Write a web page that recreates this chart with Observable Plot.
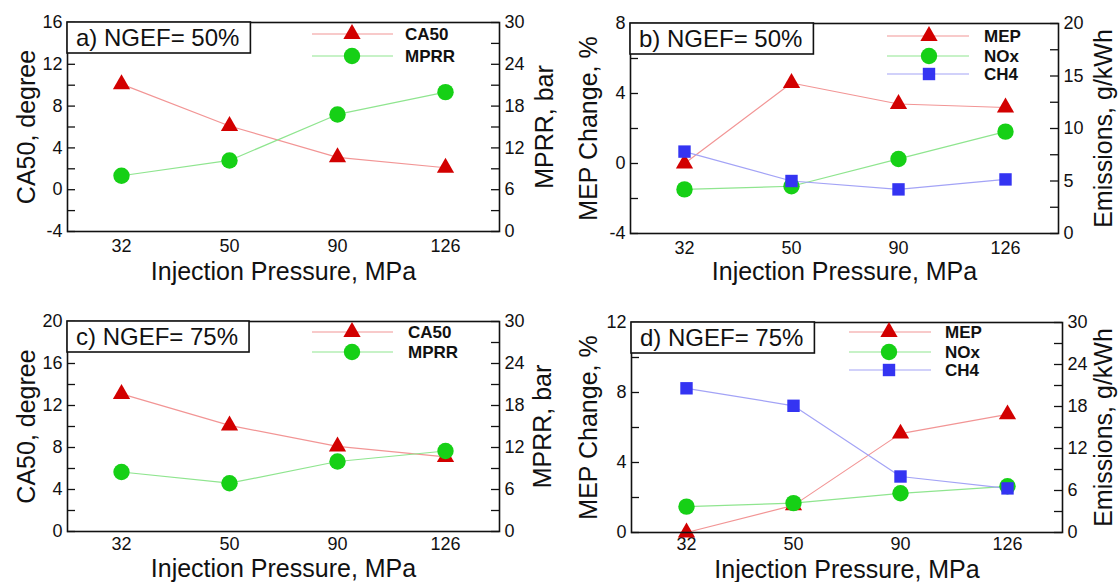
<!DOCTYPE html>
<html>
<head>
<meta charset="utf-8">
<script src="https://cdn.jsdelivr.net/npm/d3@7"></script>
<script src="https://cdn.jsdelivr.net/npm/@observablehq/plot@0.6"></script>
<style>
  html, body { margin: 0; padding: 0; background: #ffffff; }
  #fig { position: relative; width: 1118px; height: 582px; overflow: hidden; background: #fff; }
  #fig > svg { position: absolute; }
</style>
</head>
<body>
<div id="fig"></div>
<script>
// ---------------- data ----------------
const pressures = ["32", "50", "90", "126"];

// panel a (NGEF = 50%)
const ca50_a = [10.1, 6.1, 3.1, 2.1];
const mprr_a = [8.0, 10.2, 16.8, 20.0];
// panel b (NGEF = 50%)
const mep_b = [0.0, 4.6, 3.4, 3.2];
const nox_b = [4.2, 4.5, 7.1, 9.7];
const ch4_b = [7.8, 5.0, 4.2, 5.15];
// panel c (NGEF = 75%)
const ca50_c = [13.1, 10.1, 8.1, 7.1];
const mprr_c = [8.5, 6.9, 10.0, 11.5];
// panel d (NGEF = 75%)
const mep_d = [0.0, 1.55, 5.65, 6.75];
const nox_d = [3.7, 4.2, 5.6, 6.6];
const ch4_d = [20.6, 18.1, 8.0, 6.3];

// tick labels
const leftTicks_a = [-4, 0, 4, 8, 12, 16];
const rightTicks_a = [0, 6, 12, 18, 24, 30];
const leftTicks_b = [-4, 0, 4, 8];
const rightTicks_b = [0, 5, 10, 15, 20];
const leftTicks_c = [0, 4, 8, 12, 16, 20];
const rightTicks_c = [0, 6, 12, 18, 24, 30];
const leftTicks_d = [0, 4, 8, 12];
const rightTicks_d = [0, 6, 12, 18, 24, 30];

// ---------------- styles ----------------
const FONT = "'Liberation Sans', Arial, Helvetica, sans-serif";
const STYLE = {
  CA50: {symbol: "triangle", r: 6.4, fill: "#d20000", line: "#f29595"},
  MEP:  {symbol: "triangle", r: 6.4, fill: "#d20000", line: "#f29595"},
  MPRR: {symbol: "circle", r: 8.2, fill: "#16d016", line: "#8fe58f"},
  NOx:  {symbol: "circle", r: 8.2, fill: "#16d016", line: "#8fe58f"},
  CH4:  {symbol: "square", r: 7, fill: "#3434f2", line: "#a3a3f6"}
};

const CW = 559, CH = 291;

const panels = [
  {
    left: 0, top: 0, m: {l: 67, r: 60, t: 22, b: 60},
    yDomain: [-4, 16], yMinor: 2, leftTicks: leftTicks_a,
    rDomain: [0, 30], rMinor: 3, rightTicks: rightTicks_a,
    leftTitle: "CA50, degree", rightTitle: "MPRR, bar",
    ldx: -41, rdx: 45, xdy: 40, xpad: 8,
    note: "a) NGEF= 50%",
    series: [
      {name: "CA50", values: ca50_a, axis: "left"},
      {name: "MPRR", values: mprr_a, axis: "right"}
    ],
    legend: {x1: 312, x2: 393, mx: 352, tx: 405, rows: [34, 56]}
  },
  {
    left: 559, top: 0, m: {l: 71, r: 60, t: 23, b: 58},
    yDomain: [-4, 8], yMinor: 2, leftTicks: leftTicks_b,
    rDomain: [0, 20], rMinor: 2.5, rightTicks: rightTicks_b,
    leftTitle: "MEP Change, %", rightTitle: "Emissions, g/kWh",
    ldx: -42, rdx: 45, xdy: 38, xpad: 8,
    note: "b) NGEF= 50%",
    series: [
      {name: "MEP", values: mep_b, axis: "left"},
      {name: "NOx", values: nox_b, axis: "right"},
      {name: "CH4", values: ch4_b, axis: "right"}
    ],
    legend: {x1: 328, x2: 410, mx: 370, tx: 425, rows: [36, 56, 74]}
  },
  {
    left: 0, top: 291, m: {l: 67, r: 60, t: 30, b: 51},
    yDomain: [0, 20], yMinor: 2, leftTicks: leftTicks_c,
    rDomain: [0, 30], rMinor: 3, rightTicks: rightTicks_c,
    leftTitle: "CA50, degree", rightTitle: "MPRR, bar",
    ldx: -41, rdx: 43, xdy: 37, xpad: 6,
    note: "c) NGEF= 75%",
    series: [
      {name: "CA50", values: ca50_c, axis: "left"},
      {name: "MPRR", values: mprr_c, axis: "right"}
    ],
    legend: {x1: 312, x2: 393, mx: 352, tx: 408, rows: [41, 61]}
  },
  {
    left: 559, top: 291, m: {l: 72, r: 56, t: 31, b: 50},
    yDomain: [0, 12], yMinor: 2, leftTicks: leftTicks_d,
    rDomain: [0, 30], rMinor: 3, rightTicks: rightTicks_d,
    leftTitle: "MEP Change, %", rightTitle: "Emissions, g/kWh",
    ldx: -43, rdx: 41, xdy: 37, xpad: 5,
    note: "d) NGEF= 75%",
    series: [
      {name: "MEP", values: mep_d, axis: "left"},
      {name: "NOx", values: nox_d, axis: "right"},
      {name: "CH4", values: ch4_d, axis: "right"}
    ],
    legend: {x1: 290, x2: 372, mx: 330, tx: 386, rows: [41, 61, 79]}
  }
];

const fig = document.getElementById("fig");

function rangeStep(a, b, s) {
  const out = [];
  for (let v = a; v <= b + 1e-9; v += s) out.push(+v.toFixed(4));
  return out;
}

for (const P of panels) {
  const [lo, hi] = P.yDomain;
  const [rlo, rhi] = P.rDomain;
  const toLeft = v => lo + (v - rlo) / (rhi - rlo) * (hi - lo);
  const fromLeft = v => rlo + (v - lo) / (hi - lo) * (rhi - rlo);
  const fw = CW - P.m.l - P.m.r;
  const TL = 8;

  const leftMinor = rangeStep(lo, hi, P.yMinor);
  const rightMinor = rangeStep(rlo, rhi, P.rMinor).map(toLeft);

  const seriesData = P.series.map(s => ({
    ...s,
    rows: pressures.map((p, i) => ({p, v: s.axis === "left" ? s.values[i] : toLeft(s.values[i])}))
  }));

  const marks = [
    // inward ticks
    Plot.tickY(leftMinor, {y: d => d, insetRight: fw - TL, stroke: "#111", strokeWidth: 1.3}),
    Plot.tickY(rightMinor, {y: d => d, insetLeft: fw - TL, stroke: "#111", strokeWidth: 1.3}),
    // axes labels
    Plot.axisY({anchor: "left", ticks: P.leftTicks, tickSize: 0, tickPadding: 5, tickFormat: d => String(d), label: null, fontSize: 18}),
    Plot.axisY({anchor: "right", ticks: P.rightTicks.map(toLeft), tickSize: 0, tickPadding: 5,
      tickFormat: d => String(Math.round(fromLeft(d) * 100) / 100), label: null, fontSize: 18}),
    Plot.axisX({anchor: "bottom", ticks: pressures, tickSize: 0, tickPadding: P.xpad, label: null, fontSize: 18}),
    // titles
    Plot.text([P.leftTitle], {text: d => d, frameAnchor: "left", textAnchor: "middle", lineAnchor: "middle", dx: P.ldx, rotate: -90, fontSize: 25}),
    Plot.text([P.rightTitle], {text: d => d, frameAnchor: "right", textAnchor: "middle", lineAnchor: "middle", dx: P.rdx, rotate: -90, fontSize: 25}),
    Plot.text(["Injection Pressure, MPa"], {text: d => d, frameAnchor: "bottom", textAnchor: "middle", lineAnchor: "middle", dy: P.xdy, fontSize: 25})
  ];
  for (const s of seriesData) {
    const st = STYLE[s.name];
    marks.push(Plot.line(s.rows, {x: "p", y: "v", stroke: st.line, strokeWidth: 1.2}));
  }
  for (const s of seriesData) {
    const st = STYLE[s.name];
    marks.push(Plot.dot(s.rows, {x: "p", y: "v", symbol: st.symbol, r: st.r, fill: st.fill, stroke: "none"}));
  }
  marks.push(Plot.frame({stroke: "#111", strokeWidth: 1.6}));

  const svg = Plot.plot({
    width: CW, height: CH,
    marginLeft: P.m.l, marginRight: P.m.r, marginTop: P.m.t, marginBottom: P.m.b,
    x: {type: "point", domain: pressures, padding: 0.5, axis: null},
    y: {domain: P.yDomain, axis: null, nice: false},
    style: {fontFamily: FONT, fontSize: "18px", background: "transparent", color: "#111", overflow: "visible"},
    marks
  });
  svg.style.left = P.left + "px";
  svg.style.top = P.top + "px";
  fig.appendChild(svg);

  const g = d3.select(svg).append("g").attr("font-family", FONT).attr("text-anchor", "start");

  // annotation box
  const noteG = g.append("g");
  const rect = noteG.append("rect");
  const txt = noteG.append("text")
    .attr("x", P.m.l + 9).attr("y", P.m.t + 16).attr("dy", "0.35em")
    .attr("text-anchor", "start")
    .attr("font-size", 24).attr("fill", "#111").text(P.note);
  const tw = txt.node().getComputedTextLength();
  rect.attr("x", P.m.l).attr("y", P.m.t).attr("width", tw + 20).attr("height", 31)
    .attr("fill", "#fff").attr("stroke", "#111").attr("stroke-width", 1.6);

  // legend
  const L = P.legend;
  P.series.forEach((s, i) => {
    const st = STYLE[s.name];
    const y = L.rows[i];
    g.append("line").attr("x1", L.x1).attr("x2", L.x2).attr("y1", y).attr("y2", y)
      .attr("stroke", st.line).attr("stroke-width", 1.2);
    const typ = st.symbol === "triangle" ? d3.symbolTriangle : st.symbol === "square" ? d3.symbolSquare : d3.symbolCircle;
    g.append("path").attr("transform", `translate(${L.mx},${y})`)
      .attr("d", d3.symbol(typ, Math.PI * st.r * st.r)()).attr("fill", st.fill);
    g.append("text").attr("x", L.tx).attr("y", y).attr("dy", "0.35em")
      .attr("text-anchor", "start")
      .attr("font-size", 17).attr("font-weight", "bold").attr("fill", "#111").text(s.name);
  });
}
</script>
</body>
</html>
